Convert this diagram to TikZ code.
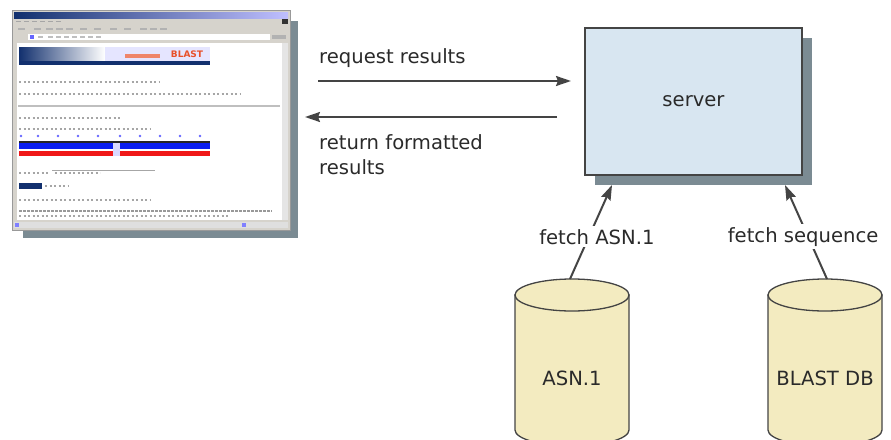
\documentclass[tikz,border=0pt]{standalone}
\usepackage{fontspec}
\setmainfont{DejaVu Sans}
\usetikzlibrary{arrows.meta,calc,shadows}
\definecolor{shadowc}{HTML}{7B8B93}
\definecolor{srvfill}{HTML}{D8E6F1}
\definecolor{cylfill}{HTML}{F3EBC0}
\definecolor{edgec}{HTML}{444444}
\definecolor{txtc}{HTML}{2A2A2A}
\definecolor{winc}{HTML}{D6D3CC}
\definecolor{navy}{HTML}{12306E}
\definecolor{barblue}{HTML}{0A1EF0}
\definecolor{barred}{HTML}{F01818}
\definecolor{blastred}{HTML}{E8502A}
\begin{document}
\begin{tikzpicture}[x=1pt,y=-1pt,
  lbl/.style={font=\fontsize{19.6}{25}\selectfont, text=txtc, inner sep=1pt},
  arr/.style={draw=edgec, line width=2pt, -{Stealth[length=15pt,width=10pt,inset=2pt]}},
  srvbox/.style={draw=edgec, line width=1.4pt, fill=srvfill, minimum width=217pt, minimum height=147pt,
     outer sep=0pt, font=\fontsize{19.6}{25}\selectfont, text=txtc,
     drop shadow={shadow xshift=10pt, shadow yshift=-10pt, fill=shadowc, opacity=1}},
  cyl/.style={draw=edgec, line width=1.3pt, fill=cylfill},
  txtline/.style={draw=gray!70, line width=1.6pt, dash pattern=on 2pt off 2.5pt},
]
\useasboundingbox (0,0) rectangle (891,439);

% ---------- browser screenshot ----------
\fill[shadowc] (23,21) rectangle (298,238);
\node[draw=gray!80, fill=winc, minimum width=278pt, minimum height=220pt, inner sep=0pt, outer sep=0pt] (br) at (151,120) {};
\shade[left color=navy, right color=blue!25] (14,12) rectangle (288,18);
\fill[black!80] (282,19) rectangle (288,24);
\foreach \x in {16,24,32,40,48,56} \fill[gray!70] (\x,20.5) rectangle ++(5,1.5);
\foreach \x in {18,34,46,56,66,80,94,110,124,140,150,160} \fill[gray!60] (\x,27.5) rectangle ++(7,2.5);
\fill[white] (28,34) rectangle (270,40);
\fill[blue!60] (30,35) rectangle (34,39);
\foreach \x in {38,48,56,64,72,80,88,96} \fill[gray!50] (\x,36) rectangle ++(5,2);
\fill[gray!60] (272,35) rectangle (286,39);
\fill[white] (17,43) rectangle (282,220);
\fill[gray!20] (282,43) rectangle (288,220);
\fill[gray!25] (14,222) rectangle (288,228);
\fill[blue!50] (15,223) rectangle (19,227);
\fill[blue!50] (242,223) rectangle (246,227);
% banner
\shade[left color=navy, right color=white] (19,47) rectangle (105,62);
\fill[white!90!blue] (105,47) rectangle (210,62);
\fill[navy] (19,61) rectangle (210,65);
\fill[blastred!70] (125,54) rectangle (160,58);
\node[font=\bfseries\fontsize{9}{9}\selectfont, text=blastred, inner sep=0pt] (bl) at (187,54) {BLAST};
% text lines
\draw[txtline] (19,82) -- (160,82);
\draw[txtline] (19,94) -- (240,94);
\draw[draw=gray!50, line width=1.5pt] (18,106) -- (280,106);
\draw[txtline] (19,118) -- (120,118);
\draw[txtline] (19,129) -- (150,129);
\foreach \x in {21,38,58,78,98,120,140,160,180,200} \fill[blue!60] (\x,136) circle (1.3pt);
\fill[black!85] (19,141) rectangle (210,143);
\fill[barblue] (19,143) rectangle (210,149);
\fill[barred] (19,151) rectangle (210,156);
\fill[white!85!blue] (113,143) rectangle (120,156);
\draw[txtline] (19,173) -- (50,173);
\draw[gray!70, line width=0.8pt] (52,170) -- (155,170);
\draw[txtline] (55,173) -- (100,173);
\fill[navy] (19,183) rectangle (42,189);
\draw[txtline] (45,186) -- (68,186);
\draw[txtline] (19,200) -- (150,200);
\draw[line width=1.6pt, draw=gray!80, dash pattern=on 3pt off 1pt] (19,211) -- (272,211);
\draw[txtline] (19,216) -- (230,216);

% ---------- server ----------
\node[srvbox] (srv) at (693.5,101.5) {\raisebox{-3pt}{server}};

% ---------- browser <-> server ----------
\draw[arr] ($(br.north east)+(28,71)$) -- ($(srv.north west)+(-14,53)$);
\draw[arr] ($(srv.north west)+(-28,89)$) -- ($(br.north east)+(15,107)$);
\node[lbl, anchor=west] (req) at (318,58) {request results};
\node[lbl, anchor=north west, align=left] (ret) at (318,133) {return formatted\\results};

% ---------- cylinders ----------
\path[cyl] (515,295) -- (515,430) arc[start angle=180, end angle=0, x radius=57, y radius=16] -- (629,295) -- cycle;
\path[cyl] (572,295) ellipse[x radius=57, y radius=16];
\node[lbl] (asn) at (572,378) {ASN.1};
\coordinate (asntop) at (570,279);

\path[cyl] (768,295) -- (768,430) arc[start angle=180, end angle=0, x radius=57, y radius=16] -- (882,295) -- cycle;
\path[cyl] (825,295) ellipse[x radius=57, y radius=16];
\node[lbl] (bdb) at (825,378) {BLAST DB};
\coordinate (bdbtop) at (827,279);

% ---------- fetch arrows ----------
\draw[arr] (asntop) -- node[lbl, fill=white, pos=0.45, xshift=8pt, inner ysep=3pt] (fa) {fetch ASN.1} ($(srv.south west)+(27,10)$);
\draw[arr] (bdbtop) -- node[lbl, fill=white, pos=0.45, xshift=-5pt, inner ysep=3pt] (fs) {fetch sequence} ($(srv.south east)+(-17,10)$);
\end{tikzpicture}
\end{document}
